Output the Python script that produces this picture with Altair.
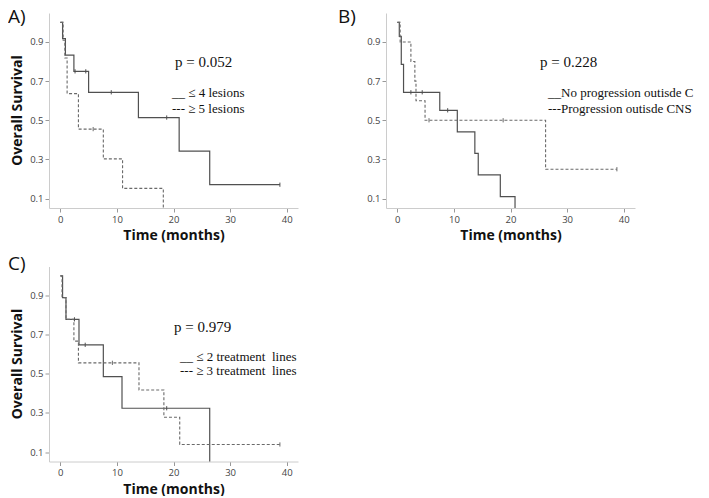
import altair as alt
import pandas as pd

# ---------------- data ----------------
# Panel A: number of lesions
a_solid_t = [0, 0.4, 0.9, 2.4, 5.0, 13.8, 21.0, 26.4, 38.8]
a_solid_s = [1.0, 0.917, 0.833, 0.75, 0.643, 0.514, 0.343, 0.171, 0.171]
a_solid_cens_t = [2.6, 4.5, 9.0, 18.8, 38.8]
a_solid_cens_s = [0.75, 0.75, 0.643, 0.514, 0.171]
a_dash_t = [0, 0.5, 0.8, 1.2, 3.2, 7.6, 11.0, 18.2]
a_dash_s = [1.0, 0.909, 0.818, 0.636, 0.455, 0.303, 0.152, 0.0]
a_dash_cens_t = [5.8]
a_dash_cens_s = [0.455]

# Panel B: progression outside CNS
b_solid_t = [0, 0.35, 0.7, 1.1, 7.5, 10.6, 13.7, 14.3, 18.2, 20.8]
b_solid_s = [1.0, 0.929, 0.786, 0.643, 0.551, 0.441, 0.331, 0.221, 0.110, 0.0]
b_solid_cens_t = [2.4, 4.4, 8.9]
b_solid_cens_s = [0.643, 0.643, 0.551]
b_dash_t = [0, 0.5, 2.4, 3.1, 3.3, 4.9, 26.2, 38.8]
b_dash_s = [1.0, 0.9, 0.8, 0.7, 0.6, 0.5, 0.25, 0.25]
b_dash_cens_t = [5.6, 18.7, 38.8]
b_dash_cens_s = [0.5, 0.5, 0.25]

# Panel C: treatment lines
c_solid_t = [0, 0.4, 1.0, 3.3, 7.6, 10.9, 26.4]
c_solid_s = [1.0, 0.889, 0.778, 0.648, 0.486, 0.324, 0.0]
c_solid_cens_t = [2.5, 4.4, 18.8]
c_solid_cens_s = [0.778, 0.648, 0.324]
c_dash_t = [0, 0.3, 1.0, 2.4, 3.2, 13.9, 18.3, 21.1, 38.8]
c_dash_s = [1.0, 0.889, 0.778, 0.667, 0.556, 0.417, 0.278, 0.139, 0.139]
c_dash_cens_t = [9.2, 38.8]
c_dash_cens_s = [0.556, 0.139]

x_ticks = [0, 10, 20, 30, 40]
y_ticks = [0.1, 0.3, 0.5, 0.7, 0.9]

p_values = ["p = 0.052", "p = 0.228", "p = 0.979"]
legend_a = ["__ \u2264 4 lesions", "--- \u2265 5 lesions"]
legend_b = ["__No progression outisde CNS", "---Progression outisde CNS"]
legend_c = ["__ \u2264 2 treatment\u00a0 lines", "--- \u2265 3 treatment\u00a0 lines"]
panel_labels = ["A)", "B)", "C)"]

# ---------------- styling ----------------
X_DOMAIN = [-2, 42]
Y_DOMAIN = [0.052, 1.048]
W, H = 249, 195
SANS = "Open Sans"
SERIF = "Liberation Serif"
SOLID_C = "#505050"
DASH_C = "#6a6a6a"


def text_layer(txt, x, y, font, size, align="left", baseline="middle", limit=0):
    kw = {}
    if limit:
        kw = {"limit": limit, "ellipsis": " "}
    return alt.Chart(pd.DataFrame({"txt": [txt]})).mark_text(
        font=font, fontSize=size, align=align, baseline=baseline, color="#111111", **kw
    ).encode(x=alt.value(x), y=alt.value(y), text="txt:N")


def panel(label, label_xy, st, ss, sct, scs, dt, ds, dct, dcs, ptext, pxy, legend, legxy, leg_step,
          ytitle, leg_limit=0):
    xenc = alt.X("t:Q", scale=alt.Scale(domain=X_DOMAIN, nice=False, zero=False),
                 axis=alt.Axis(values=x_ticks, title="Time (months)", titleX=W / 2, titleY=27.5,
                               titleBaseline="middle"))
    yenc = alt.Y("s:Q", scale=alt.Scale(domain=Y_DOMAIN, nice=False, zero=False),
                 axis=alt.Axis(values=y_ticks, format=".1f",
                               title="Overall Survival" if ytitle else "",
                               titleX=-31.5, titleY=97, titleBaseline="middle"))
    solid = alt.Chart(pd.DataFrame({"t": st, "s": ss})).mark_line(
        interpolate="step-after", clip=True, color=SOLID_C, strokeWidth=1.2
    ).encode(x=xenc, y=yenc)
    dash = alt.Chart(pd.DataFrame({"t": dt, "s": ds})).mark_line(
        interpolate="step-after", clip=True, color=DASH_C, strokeWidth=1.1, strokeDash=[3, 2]
    ).encode(x=xenc, y=yenc)
    scens = alt.Chart(pd.DataFrame({"t": sct, "s": scs})).mark_point(
        shape="M0,-1L0,1", size=18, filled=False, color=SOLID_C, strokeWidth=1, opacity=1
    ).encode(x=xenc, y=yenc)
    dcens = alt.Chart(pd.DataFrame({"t": dct, "s": dcs})).mark_point(
        shape="M0,-1L0,1", size=18, filled=False, color=DASH_C, strokeWidth=1, opacity=1
    ).encode(x=xenc, y=yenc)
    layers = [solid, dash, scens, dcens,
              text_layer(ptext, pxy[0], pxy[1], SERIF, 15),
              text_layer(legend[0], legxy[0], legxy[1], SERIF, 13, limit=leg_limit),
              text_layer(legend[1], legxy[0], legxy[1] + leg_step, SERIF, 13, limit=leg_limit),
              text_layer(label, label_xy[0], label_xy[1], SANS, 19, baseline="top")]
    return alt.layer(*layers).properties(width=W, height=H)


pa = panel(panel_labels[0], (-41, -5), a_solid_t, a_solid_s, a_solid_cens_t, a_solid_cens_s,
           a_dash_t, a_dash_s, a_dash_cens_t, a_dash_cens_s,
           p_values[0], (126, 49), legend_a, (123, 80), 15.6, True)
pb = panel(panel_labels[1], (-48, -5), b_solid_t, b_solid_s, b_solid_cens_t, b_solid_cens_s,
           b_dash_t, b_dash_s, b_dash_cens_t, b_dash_cens_s,
           p_values[1], (154, 49), legend_b, (162, 80.3), 16, False, leg_limit=153)
pc = panel(panel_labels[2], (-41, -11.4), c_solid_t, c_solid_s, c_solid_cens_t, c_solid_cens_s,
           c_dash_t, c_dash_s, c_dash_cens_t, c_dash_cens_s,
           p_values[2], (125, 60), legend_c, (131, 90), 14.5, True)

top = alt.hconcat(pa, pb, spacing=40)
chart = alt.vconcat(top, pc, spacing=11.5).properties(padding=0).configure_view(
    stroke=None
).configure_axis(
    grid=False, domainColor="#cccccc", tickColor="#999999", tickSize=4,
    labelFont=SANS, labelFontSize=9.5, labelColor="#444444", labelPadding=2,
    titleFont=SANS, titleFontSize=14, titleFontWeight="bold", titleColor="#111111"
)

chart.save("out.html", embed_options={"renderer": "svg", "actions": False})
